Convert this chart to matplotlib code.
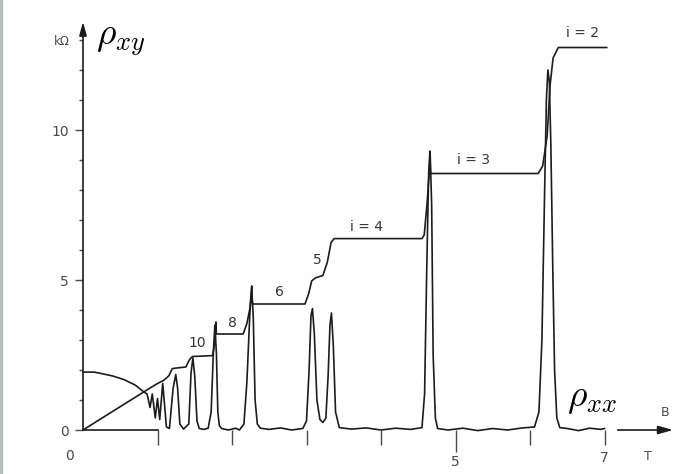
import matplotlib
matplotlib.use("Agg")
import matplotlib.pyplot as plt
from matplotlib.patches import Rectangle

plt.rcParams['mathtext.fontset'] = 'cm'
plt.rcParams['font.family'] = ['DejaVu Sans']

# Hall resistance rho_xy (kOhm) vs B (T)
bxy = [0.0, 0.9, 1.0, 1.08, 1.15, 1.2, 1.38, 1.43, 1.47, 1.74, 1.77, 1.785, 1.79,
       2.15, 2.2, 2.24, 2.265, 2.27, 2.28, 2.98, 3.03, 3.07, 3.12, 3.22, 3.28,
       3.33, 3.37, 4.55, 4.58, 4.62, 4.645, 4.655, 4.665, 6.11, 6.17, 6.2, 6.23,
       6.27, 6.31, 6.38, 7.03]
rxy = [0.0, 1.4, 1.55, 1.65, 1.8, 2.05, 2.1, 2.35, 2.45, 2.48, 2.9, 3.6, 3.2,
       3.2, 3.55, 4.05, 4.8, 4.3, 4.2, 4.2, 4.55, 4.97, 5.07, 5.15, 5.6,
       6.25, 6.38, 6.38, 6.5, 7.6, 8.5, 9.3, 8.55, 8.55, 8.8, 9.3, 9.8,
       11.5, 12.4, 12.75, 12.75]

# longitudinal resistance rho_xx (kOhm) vs B (T)
bxx = [0.0, 0.15, 0.25, 0.4, 0.55, 0.7, 0.8, 0.86, 0.9, 0.93, 0.97, 1.0, 1.03,
       1.07, 1.12, 1.16, 1.21, 1.245, 1.27, 1.3, 1.35, 1.42, 1.45, 1.475, 1.5,
       1.53, 1.56, 1.62, 1.68, 1.72, 1.75, 1.77, 1.79, 1.81, 1.83, 1.86, 1.95,
       2.05, 2.1, 2.16, 2.2, 2.24, 2.265, 2.285, 2.31, 2.34, 2.38, 2.5, 2.65,
       2.8, 2.95, 3.0, 3.035, 3.06, 3.08, 3.105, 3.14, 3.18, 3.22, 3.26, 3.29,
       3.315, 3.335, 3.36, 3.39, 3.44, 3.6, 3.8, 4.0, 4.2, 4.4, 4.55, 4.585,
       4.615, 4.64, 4.66, 4.68, 4.70, 4.73, 4.76, 4.9, 5.1, 5.3, 5.5, 5.7,
       5.9, 6.06, 6.12, 6.16, 6.195, 6.22, 6.24, 6.26, 6.28, 6.305, 6.33,
       6.36, 6.4, 6.5, 6.65, 6.8, 6.95, 7.0]
rxx = [1.93, 1.93, 1.88, 1.8, 1.68, 1.5, 1.3, 1.2, 0.75, 1.2, 0.4, 1.05, 0.35,
       1.55, 0.1, 0.05, 1.4, 1.85, 1.4, 0.2, 0.03, 0.2, 1.9, 2.4, 1.8,
       0.3, 0.05, 0.02, 0.06, 0.6, 2.6, 3.5, 2.6, 0.6, 0.15, 0.05, 0.0,
       0.06, 0.0, 0.2, 1.6, 3.9, 4.7, 3.8, 1.0, 0.2, 0.06, 0.02, 0.07,
       0.0, 0.05, 0.3, 2.0, 3.8, 4.05, 3.2, 1.0, 0.35, 0.25, 0.4, 1.8,
       3.5, 3.9, 2.8, 0.6, 0.08, 0.03, 0.07, 0.0, 0.06, 0.02, 0.08, 1.2,
       5.5, 8.6, 9.2, 7.5, 2.5, 0.4, 0.05, 0.0, 0.06, -0.02, 0.05, 0.0,
       0.07, 0.1, 0.6, 3.0, 7.8, 11.0, 12.0, 11.6, 9.5, 5.5, 2.0,
       0.4, 0.08, 0.05, -0.02, 0.06, 0.02, 0.05]

step_text = ['10', '8', '6', '5', 'i = 4', 'i = 3', 'i = 2']
step_b = [1.53, 2.0, 2.64, 3.14, 3.81, 5.24, 6.71]
step_r = [2.9, 3.57, 4.6, 5.67, 6.77, 9.0, 13.23]

ink = '#1c1c1c'
grey = '#4a4a4a'

fig = plt.figure(figsize=(6.99, 4.74), dpi=100)
fig.patches.append(Rectangle((0, 0), 2 / 699, 1, transform=fig.transFigure,
                             color='#b3bdb9', zorder=0))
ax = fig.add_axes([83 / 699, 44 / 474, 596 / 699, 414 / 474])
ax.set_xlim(0, 8)
ax.set_ylim(0, 13.8)

ax.plot(bxy, rxy, color=ink, lw=1.2, clip_on=False)
ax.plot(bxx, rxx, color=ink, lw=1.2, clip_on=False)

for t, b, r in zip(step_text, step_b, step_r):
    ax.text(b, r, t, ha='center', va='center', fontsize=10, color='#333333')

# axes
for s in ['top', 'right']:
    ax.spines[s].set_visible(False)
ax.spines['left'].set_bounds(0, 13.2)
ax.spines['bottom'].set_bounds(0, 1.0)
ax.spines['left'].set_color(ink)
ax.spines['bottom'].set_color(ink)
ax.spines['left'].set_linewidth(1.2)
ax.spines['bottom'].set_linewidth(1.2)
ax.annotate('', xy=(0, 13.7), xytext=(0, 13.0),
            arrowprops=dict(arrowstyle='-|>,head_length=0.8,head_width=0.22',
                            color=ink, lw=1.2), annotation_clip=False)
ax.annotate('', xy=(7.96, 0), xytext=(7.14, 0),
            arrowprops=dict(arrowstyle='-|>,head_length=0.9,head_width=0.25',
                            color=ink, lw=1.2), annotation_clip=False)

ax.set_yticks([0, 5, 10])
ax.set_yticks(range(1, 14), minor=True)
ax.set_xticks([5])
ax.set_xticklabels(['5'])
ax.set_xticks([1, 2, 3, 4, 6, 7], minor=True)
ax.tick_params(axis='y', which='major', length=6, width=1, color=grey,
               labelsize=10, labelcolor=grey, pad=4)
ax.tick_params(axis='y', which='minor', length=3, width=1, color=grey)
ax.tick_params(axis='x', which='major', length=16, width=1, color=grey,
               labelsize=10, labelcolor=grey, pad=2)
ax.tick_params(axis='x', which='minor', length=11, width=1, color=grey)

ax.text(-0.18, -0.85, '0', ha='center', va='center', fontsize=10, color=grey,
        clip_on=False)
ax.text(7.0, -0.93, '7', ha='center', va='center', fontsize=10, color=grey,
        clip_on=False)
ax.text(-0.17, 12.95, 'kΩ', ha='right', va='center', fontsize=8.5, color=grey)
ax.text(7.58, -0.9, 'T', ha='center', va='center', fontsize=9, color=grey,
        clip_on=False)
ax.text(7.81, 0.57, 'B', ha='center', va='center', fontsize=9, color=grey)

ax.text(0.17, 13.0, r'$\rho_{xy}$', ha='left', va='center', fontsize=27)
ax.text(6.5, 1.05, r'$\rho_{xx}$', ha='left', va='center', fontsize=27)

fig.savefig('out.png', dpi=100)
